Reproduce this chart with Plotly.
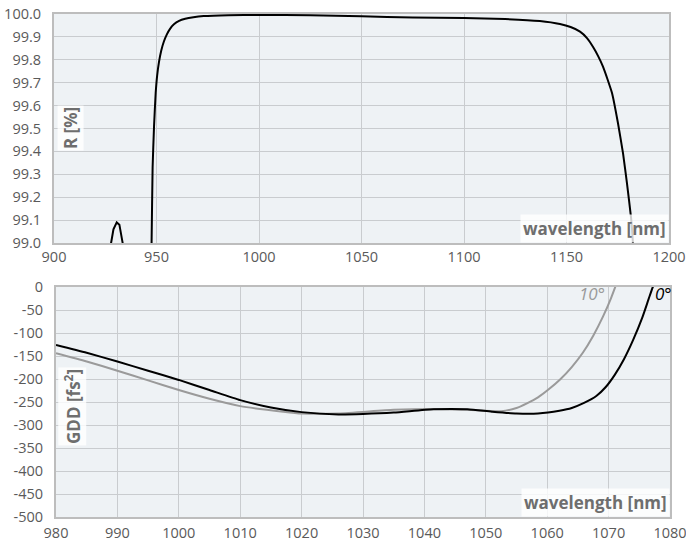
import plotly.graph_objects as go

# ---- Top panel: reflectance ----
r_bump_wl = [924.0, 927.6, 929.0, 930.6, 931.9, 933.5, 935.0]
r_bump_val = [98.8, 99.0, 99.06, 99.09, 99.08, 99.0, 98.8]

r_wl = [947.2, 947.6, 948.1, 948.8, 949.6, 950.3, 951.2, 952.3, 953.6, 955.0, 956.6, 958.5, 961.0, 964.0,
        968.0, 973.0, 985.0, 1000.0, 1025.0, 1050.0, 1075.0, 1100.0, 1120.0, 1137.0, 1146.8,
        1152.0, 1156.6, 1160.0, 1162.9, 1165.5, 1167.8, 1170.0, 1172.2, 1175.1, 1177.6, 1179.5,
        1181.5, 1182.4, 1182.8]
r_val = [98.8, 99.0, 99.33, 99.51, 99.655, 99.73, 99.79, 99.84, 99.88, 99.91, 99.935, 99.955, 99.97,
         99.979, 99.986, 99.991, 99.995, 99.996, 99.995, 99.99, 99.985, 99.982, 99.978, 99.969,
         99.956, 99.943, 99.923, 99.895, 99.857, 99.815, 99.77, 99.715, 99.655, 99.524, 99.39,
         99.26, 99.11, 99.0, 98.9]

r_xticks = [900, 950, 1000, 1050, 1100, 1150, 1200]
r_yticks = [99.0, 99.1, 99.2, 99.3, 99.4, 99.5, 99.6, 99.7, 99.8, 99.9, 100.0]
r_ylabels = ["99.0", "99.1", "99.2", "99.3", "99.4", "99.5", "99.6", "99.7", "99.8", "99.9", "100.0"]

# ---- Bottom panel: GDD ----
gdd0_wl = [980, 985, 990, 995, 1000, 1005, 1010, 1015, 1020, 1026, 1030, 1035, 1041.5, 1047,
           1051, 1055, 1058.5, 1062, 1064, 1066, 1068, 1069.5, 1071, 1072.5, 1074, 1075.5,
           1076.5, 1077.2, 1077.5]
gdd0_val = [-126, -143, -162, -182, -202, -224, -246, -262, -272, -277, -276, -273, -266, -266,
            -271, -275, -275, -269, -263, -252, -237, -218, -191, -157, -115, -66,
            -27, 0, 8]

gdd10_wl = [980, 985, 990, 995, 1000, 1005, 1010, 1017, 1020, 1026, 1035, 1041.5, 1047, 1052.5,
            1055, 1056.7, 1058.5, 1060.2, 1062.1, 1064.0, 1065.8, 1067.5, 1069.1, 1070.4, 1071.3]
gdd10_val = [-144, -162, -182, -203, -224, -243, -259, -271, -275, -275, -267, -265, -267, -270,
             -263, -253, -240, -223, -201, -174, -143, -106, -64, -24, 8]

g_xticks = [980, 990, 1000, 1010, 1020, 1030, 1040, 1050, 1060, 1070, 1080]
g_yticks = [0, -50, -100, -150, -200, -250, -300, -350, -400, -450, -500]
g_ylabels = ["0", "-50", "-100", "-150", "-200", "-250", "-300", "-350", "-400", "-450", "-500"]

FONT = "Open Sans"
TICK_COLOR = "#5a5a5a"
TITLE_COLOR = "#6e6e6e"
GRID = "#c9cccf"
BG = "#eef2f5"

fig = go.Figure()
fig.add_trace(go.Scatter(x=r_bump_wl, y=r_bump_val, mode="lines",
                         line=dict(color="black", width=2), xaxis="x", yaxis="y",
                         showlegend=False, hoverinfo="skip"))
fig.add_trace(go.Scatter(x=r_wl, y=r_val, mode="lines", line_shape="spline",
                         line=dict(color="black", width=2, smoothing=0.4), xaxis="x", yaxis="y",
                         showlegend=False, hoverinfo="skip"))
fig.add_trace(go.Scatter(x=gdd10_wl, y=gdd10_val, mode="lines", line_shape="spline",
                         line=dict(color="#9a9a9a", width=2, smoothing=0.6), xaxis="x2", yaxis="y2",
                         showlegend=False, hoverinfo="skip"))
fig.add_trace(go.Scatter(x=gdd0_wl, y=gdd0_val, mode="lines", line_shape="spline",
                         line=dict(color="black", width=2, smoothing=0.6), xaxis="x2", yaxis="y2",
                         showlegend=False, hoverinfo="skip"))

axis_common = dict(showgrid=True, gridcolor=GRID, gridwidth=1, showline=True,
                   linecolor="#bdbdbd", linewidth=2, mirror=True, zeroline=False,
                   ticks="", automargin=False, ticklabeloverflow="allow",
                   tickfont=dict(family=FONT, size=14.5, color=TICK_COLOR))

fig.update_layout(
    width=686, height=540,
    margin=dict(l=54, r=16, t=14, b=23),
    paper_bgcolor="white", plot_bgcolor=BG,
    xaxis=dict(domain=[0, 615 / 616], range=[900, 1200], tickvals=r_xticks,
               anchor="y", ticklabelstandoff=0, **axis_common),
    yaxis=dict(domain=[274 / 503, 1], range=[99.0, 100.0], tickvals=r_yticks,
               ticktext=r_ylabels, anchor="x", ticklabelstandoff=8, **axis_common),
    xaxis2=dict(domain=[2 / 616, 1], range=[980, 1080], tickvals=g_xticks,
                anchor="y2", ticklabelstandoff=2, **axis_common),
    yaxis2=dict(domain=[0, 230 / 503], range=[-500, 0], tickvals=g_yticks,
                ticktext=g_ylabels, anchor="x2", ticklabelstandoff=8, **axis_common),
)

title_font = dict(family=FONT, size=17, color=TITLE_COLOR)
box_bg = "rgba(255,255,255,0.8)"
fig.add_annotation(text="<b>R [%]</b>", xref="x domain", yref="y domain", x=0.005, y=0.5,
                   xanchor="left", yanchor="middle", textangle=-90, showarrow=False,
                   font=title_font, bgcolor=box_bg, borderpad=1)
fig.add_annotation(text="<b>wavelength [nm]</b>", xref="x domain", yref="y domain", x=1, y=0,
                   xanchor="right", yanchor="bottom", showarrow=False,
                   font=title_font, bgcolor=box_bg, borderpad=2)
fig.add_annotation(text="<b>GDD [fs<sup>2</sup>]</b>", xref="x2 domain", yref="y2 domain",
                   x=0.003, y=0.48, xanchor="left", yanchor="middle", textangle=-90,
                   showarrow=False, font=title_font, bgcolor=box_bg, borderpad=1)
fig.add_annotation(text="<b>wavelength [nm]</b>", xref="x2 domain", yref="y2 domain", x=1, y=0,
                   xanchor="right", yanchor="bottom", showarrow=False,
                   font=title_font, bgcolor=box_bg, borderpad=2)
fig.add_annotation(text="<i>10°</i>", xref="x2", yref="y2", x=1069.8, y=-15,
                   xanchor="right", yanchor="middle", showarrow=False,
                   font=dict(family=FONT, size=17, color="#9a9a9a"))
fig.add_annotation(text="<i>0°</i>", xref="x2", yref="y2", x=1077.2, y=-15,
                   xanchor="left", yanchor="middle", showarrow=False,
                   font=dict(family=FONT, size=17, color="black"))

# Remove the browser's default 8px body margin so the 686x540 figure fills the window.
fig.write_html("out.html",
               config={"displayModeBar": False},
               post_script="document.body.style.margin='0';document.body.style.overflow='hidden';")
